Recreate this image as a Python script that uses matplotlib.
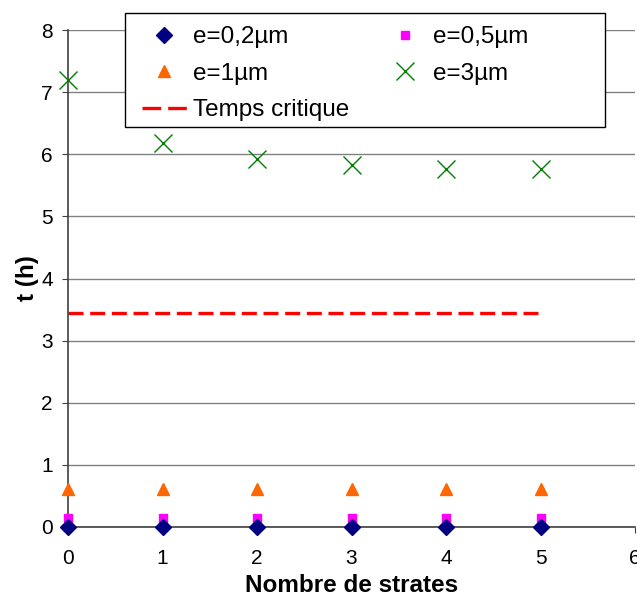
import matplotlib
matplotlib.use("Agg")
import matplotlib.pyplot as plt
from matplotlib.patches import Rectangle
from matplotlib.lines import Line2D

plt.rcParams['font.family'] = ['Liberation Sans', 'DejaVu Sans']

strates = [0, 1, 2, 3, 4, 5]
e02 = [0.0, 0.0, 0.0, 0.0, 0.0, 0.0]
e05 = [0.14, 0.14, 0.14, 0.14, 0.14, 0.14]
e1 = [0.61, 0.61, 0.61, 0.61, 0.61, 0.61]
e3 = [7.19, 6.18, 5.92, 5.82, 5.77, 5.77]
t_crit = [3.44, 3.44]
t_crit_x = [0, 5]
xticks = [0, 1, 2, 3, 4, 5, 6]
yticks = [0, 1, 2, 3, 4, 5, 6, 7, 8]

W, H = 637, 598
fig = plt.figure(figsize=(W / 100, H / 100), dpi=100)
ax = fig.add_axes([68 / W, 1 - 527 / H, (635 - 68) / W, (527 - 30) / H])

ax.set_xlim(0, 6)
ax.set_ylim(0, 8)
ax.set_yticks(yticks)
ax.set_xticks(xticks)
ax.grid(axis='y', color='#808080', linewidth=1)
ax.set_axisbelow(True)

h1, = ax.plot(strates, e02, linestyle='none', marker='D', color='#000080', markersize=8.5, clip_on=False, zorder=5)
h2, = ax.plot(strates, e05, linestyle='none', marker='s', color='#FF00FF', markersize=5.5, clip_on=False, zorder=4)
h3, = ax.plot(strates, e1, linestyle='none', marker='^', color='#FF6600', markersize=9, clip_on=False, zorder=4)
h4, = ax.plot(strates, e3, linestyle='none', marker='x', color='#008000', markersize=13, markeredgewidth=1.0, clip_on=False, zorder=4)
ax.plot(t_crit_x, t_crit, linestyle=(0, (4.5, 2)), color='#FF0000', linewidth=2.4)
h5 = Line2D([], [], linestyle=(0, (5.6, 2.1)), color='#FF0000', linewidth=2.4)

for s in ['top', 'right']:
    ax.spines[s].set_visible(False)
for s in ['left', 'bottom']:
    ax.spines[s].set_color('#404040')
    ax.spines[s].set_linewidth(1.2)

ax.tick_params(axis='both', labelsize=15, direction='out', length=4, color='#404040')
ax.tick_params(axis='x', pad=11.5)
ax.tick_params(axis='y', pad=7)
ax.set_xlabel('Nombre de strates', fontsize=17.5, fontweight='bold', labelpad=5)
ax.set_ylabel('t (h)', fontsize=17.5, fontweight='bold', labelpad=1.5)

# legend frame drawn as a rectangle in figure pixels
frame = Rectangle((125 / W, 1 - 127 / H), (605 - 125) / W, (127 - 13) / H,
                  transform=fig.transFigure, facecolor='white',
                  edgecolor='black', linewidth=1.0, zorder=9, clip_on=False)
ax.add_patch(frame)

leg = ax.legend([h1, h3, h5, h2, h4],
                ['e=0,2µm', 'e=1µm', 'Temps critique', 'e=0,5µm', 'e=3µm'],
                ncol=2, loc='upper left', bbox_to_anchor=(142 / W, 1 - 26 / H),
                bbox_transform=fig.transFigure, borderaxespad=0, borderpad=0,
                fontsize=17.5, frameon=False, handlelength=1.85, handletextpad=0.25,
                columnspacing=1.36, labelspacing=0.6)
leg.set_zorder(10)

fig.savefig('out.png', dpi=100)
